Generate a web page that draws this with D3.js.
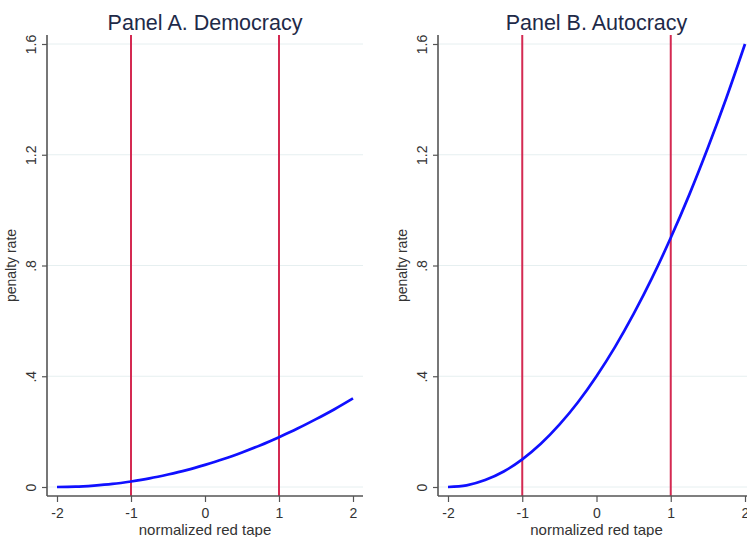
<!DOCTYPE html>
<html>
<head>
<meta charset="utf-8">
<script src="https://cdn.jsdelivr.net/npm/d3@7"></script>
<style>
  html, body { margin: 0; padding: 0; background: #fff; }
  svg { display: block; }
  text { font-family: Arial, "Liberation Sans", sans-serif; }
</style>
</head>
<body>
<svg id="chart" width="747" height="537"></svg>
<script>
// Normalized red tape grid shared by both panels
const redTape = [-2, -1.75, -1.5, -1.25, -1, -0.75, -0.5, -0.25, 0, 0.25, 0.5, 0.75, 1, 1.25, 1.5, 1.75, 2];

// Predicted penalty rate by regime type
const democracyRate = [0, 0.001, 0.005, 0.011, 0.02, 0.031, 0.045, 0.061, 0.08, 0.101, 0.125, 0.151, 0.18, 0.211, 0.245, 0.281, 0.32];
const autocracyRate = [0, 0.006, 0.025, 0.056, 0.1, 0.156, 0.225, 0.306, 0.4, 0.506, 0.625, 0.756, 0.9, 1.056, 1.225, 1.406, 1.6];

// Axis ticks and reference lines
const xTicks = [-2, -1, 0, 1, 2];
const yTicks = [0, 0.4, 0.8, 1.2, 1.6];
const yTickLabels = ["0", ".4", ".8", "1.2", "1.6"];
const refLines = [-1, 1];

const panels = [
  { title: "Panel A. Democracy", values: democracyRate, left: 47, x0: 57, x1: 353, right: 363 },
  { title: "Panel B. Autocracy", values: autocracyRate, left: 438, x0: 448, x1: 745, right: 760 }
];

const svg = d3.select("#chart");
const plotTop = 35, axisY = 496;
const y = d3.scaleLinear().domain([0, 1.6]).range([487, 44]);

panels.forEach(p => {
  const g = svg.append("g");
  const x = d3.scaleLinear().domain([-2, 2]).range([p.x0, p.x1]);

  // Gridlines
  g.selectAll("line.grid").data(yTicks).join("line")
    .attr("x1", p.left).attr("x2", p.right)
    .attr("y1", d => y(d)).attr("y2", d => y(d))
    .attr("stroke", "#e6eff0").attr("stroke-width", 1);

  // Reference lines at -1 and 1
  g.selectAll("line.ref").data(refLines).join("line")
    .attr("x1", d => x(d)).attr("x2", d => x(d))
    .attr("y1", plotTop).attr("y2", axisY)
    .attr("stroke", "#d42a52").attr("stroke-width", 2);

  // Curve
  const line = d3.line()
    .x((d, i) => x(redTape[i]))
    .y(d => y(d))
    .curve(d3.curveMonotoneX);
  g.append("path").datum(p.values)
    .attr("d", line)
    .attr("fill", "none")
    .attr("stroke", "#1010ff")
    .attr("stroke-width", 2.7);

  // Y axis
  const yAxis = d3.axisLeft(y).tickValues(yTicks)
    .tickFormat((d, i) => yTickLabels[i]).tickSize(5).tickPadding(6);
  const ya = g.append("g").attr("transform", `translate(${p.left},0)`).call(yAxis);
  ya.select(".domain").attr("d", `M0,${plotTop}V${axisY}`).attr("stroke", "#555").attr("stroke-width", 1.6);
  ya.selectAll(".tick line").attr("stroke", "#555").attr("stroke-width", 1.2);
  ya.selectAll(".tick text")
    .attr("transform", "rotate(-90)")
    .attr("x", 0).attr("y", -11).attr("dy", "0")
    .attr("text-anchor", "middle")
    .attr("font-size", 14).attr("fill", "#333");

  // X axis
  const xAxis = d3.axisBottom(x).tickValues(xTicks).tickFormat(d3.format("d")).tickSize(6).tickPadding(4);
  const xa = g.append("g").attr("transform", `translate(0,${axisY})`).call(xAxis);
  xa.select(".domain").attr("d", `M${p.left},0H${p.right}`).attr("stroke", "#555").attr("stroke-width", 1.6);
  xa.selectAll(".tick line").attr("stroke", "#555").attr("stroke-width", 1.2);
  xa.selectAll(".tick text")
    .attr("y", 22).attr("dy", "0")
    .attr("font-size", 14).attr("fill", "#333")
    .text(d => d < 0 ? "-" + Math.abs(d) : d);

  // Axis titles
  g.append("text")
    .attr("x", x(0)).attr("y", 535)
    .attr("text-anchor", "middle").attr("font-size", 15).attr("fill", "#333")
    .text("normalized red tape");
  g.append("text")
    .attr("transform", `translate(${p.left - 31},${y(0.8)}) rotate(-90)`)
    .attr("text-anchor", "middle").attr("font-size", 14).attr("fill", "#333")
    .text("penalty rate");

  // Panel title
  g.append("text")
    .attr("x", x(0)).attr("y", 30)
    .attr("text-anchor", "middle").attr("font-size", 21.5).attr("fill", "#1e2a48")
    .text(p.title);
});
</script>
</body>
</html>
